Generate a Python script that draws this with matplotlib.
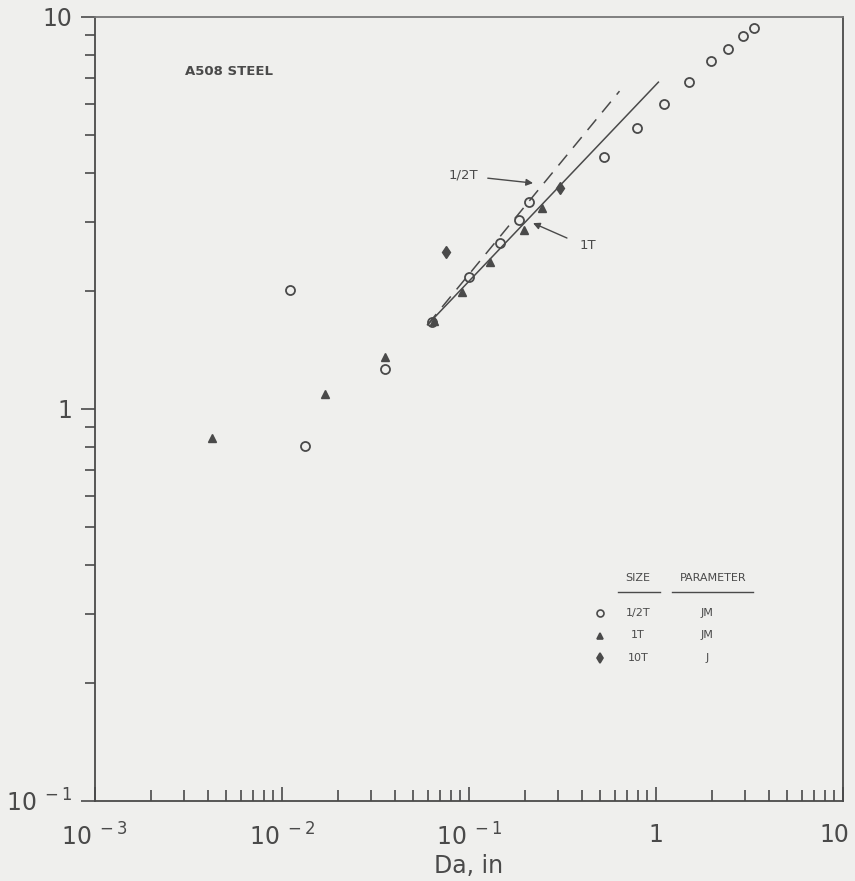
import matplotlib
matplotlib.use("Agg")
import matplotlib.pyplot as plt
from matplotlib.ticker import LogLocator, NullFormatter, FixedLocator, FixedFormatter
import matplotlib.transforms as mtrans

# Data
half_x = [0.011, 0.0132, 0.0356, 0.0636, 0.100, 0.146, 0.185, 0.209, 0.525, 0.796, 1.11, 1.51, 1.98, 2.44, 2.93, 3.35]
half_y = [2.01, 0.806, 1.265, 1.67, 2.17, 2.65, 3.03, 3.37, 4.39, 5.21, 6.00, 6.82, 7.72, 8.28, 8.95, 9.37]
one_x = [0.0042, 0.0169, 0.0356, 0.065, 0.092, 0.129, 0.196, 0.245]
one_y = [0.843, 1.09, 1.36, 1.68, 1.99, 2.37, 2.86, 3.26]
ten_x = [0.0753, 0.305]
ten_y = [2.51, 3.66]
fit1T_x = [0.06, 1.03]
fit1T_y = [1.64, 6.82]
fit05T_x = [0.06, 0.638]
fit05T_y = [1.64, 6.47]

xticks = [1e-3, 1e-2, 1e-1, 1, 10]
xticklabels = [r"$10^{\ -3}$", r"$10^{\ -2}$", r"$10^{\ -1}$", "1", "10"]
yticks = [0.1, 1, 10]
yticklabels = [r"$10^{\ -1}$", "1", "10"]

ink = "#4a4a4a"
bg = "#efefed"
plt.rcParams['mathtext.default'] = 'regular'

fig = plt.figure(figsize=(8.55, 8.81), dpi=100, facecolor=bg)
ax = fig.add_axes([95/855, 1-801/881, (843-95)/855, (801-17)/881])
ax.set_facecolor(bg)
ax.set_xscale("log")
ax.set_yscale("log")
ax.set_xlim(1e-3, 10)
ax.set_ylim(0.1, 10)

ax.plot(fit1T_x, fit1T_y, color=ink, lw=1.1)
ax.plot(fit05T_x, fit05T_y, color=ink, lw=1.1, dashes=(9, 6))

ax.plot(half_x, half_y, linestyle="none", marker="o", ms=6.5, mfc="none", mec=ink, mew=1.3)
ax.plot(one_x, one_y, linestyle="none", marker="^", ms=5.5, mfc=ink, mec=ink)
ax.plot(ten_x, ten_y, linestyle="none", marker="d", ms=6.5, mfc=ink, mec=ink)

ax.xaxis.set_major_locator(FixedLocator(xticks))
ax.xaxis.set_major_formatter(FixedFormatter(xticklabels))
ax.yaxis.set_major_locator(FixedLocator(yticks))
ax.yaxis.set_major_formatter(FixedFormatter(yticklabels))
ax.xaxis.set_minor_locator(LogLocator(base=10, subs=range(2, 10)))
ax.yaxis.set_minor_locator(LogLocator(base=10, subs=range(2, 10)))
ax.xaxis.set_minor_formatter(NullFormatter())
ax.yaxis.set_minor_formatter(NullFormatter())
ax.tick_params(axis="x", which="both", direction="in", colors=ink, labelsize=17, pad=16)
ax.tick_params(axis="x", which="major", length=10, width=1.2)
ax.tick_params(axis="x", which="minor", length=8, width=1.2)
ax.tick_params(axis="y", which="both", direction="out", colors=ink, labelsize=17, pad=6)
ax.tick_params(axis="y", which="major", length=10, width=1.2)
ax.tick_params(axis="y", which="minor", length=7, width=1.2)
for s in ax.spines.values():
    s.set_color(ink)
    s.set_linewidth(1.3)
ax.spines["top"].set_color("#777777")

# shift the last x tick label left so it stays inside the figure
fig.canvas.draw()
lbl = ax.get_xticklabels()[-1]
lbl.set_transform(lbl.get_transform() + mtrans.ScaledTranslation(-6/72, 0, fig.dpi_scale_trans))

fig.text(469/855, 1 - 866/881, "Da, in", fontsize=17, color=ink, ha="center", va="center")

ax.text(0.120, 0.930, "A508 STEEL", transform=ax.transAxes, fontsize=9.5,
        fontweight="bold", color=ink, va="center", ha="left")

ax.text(0.093, 3.95, "1/2T", fontsize=9.5, color=ink, ha="center", va="center")
ax.annotate("", xy=(0.22, 3.77), xytext=(0.126, 3.88),
            arrowprops=dict(arrowstyle="-|>", color=ink, lw=1, shrinkA=0, shrinkB=0,
                            mutation_scale=10))
ax.text(0.43, 2.62, "1T", fontsize=9.5, color=ink, ha="center", va="center")
ax.annotate("", xy=(0.22, 2.98), xytext=(0.334, 2.73),
            arrowprops=dict(arrowstyle="-|>", color=ink, lw=1, shrinkA=0, shrinkB=0,
                            mutation_scale=10))

# Legend table
T = ax.transAxes
def fx(px):
    return (px - 95) / (843 - 95)
def fy(py):
    return (801 - py) / (801 - 17)
ax.text(fx(638), fy(578), "SIZE", transform=T, fontsize=8, color=ink, ha="center", va="center")
ax.text(fx(713), fy(578), "PARAMETER", transform=T, fontsize=8, color=ink, ha="center", va="center")
ax.plot([fx(618), fx(660)], [fy(592), fy(592)], transform=T, color=ink, lw=1)
ax.plot([fx(672), fx(753)], [fy(592), fy(592)], transform=T, color=ink, lw=1)
rows = [("o", "1/2T", "JM", "none"), ("^", "1T", "JM", ink), ("d", "10T", "J", ink)]
for i, (m, size, par, fc) in enumerate(rows):
    yy = fy(613 + 22.5 * i)
    ax.plot([fx(600)], [yy], transform=T, marker=m, ms=5, mfc=fc, mec=ink, mew=1.2, linestyle="none")
    ax.text(fx(638), yy, size, transform=T, fontsize=8, color=ink, ha="center", va="center")
    ax.text(fx(707), yy, par, transform=T, fontsize=8, color=ink, ha="center", va="center")

fig.savefig("out.png", dpi=100, facecolor=bg)
